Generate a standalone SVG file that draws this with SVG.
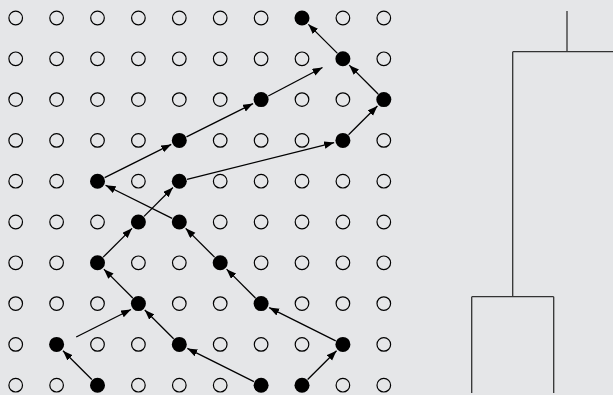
<svg xmlns="http://www.w3.org/2000/svg" width="613" height="395" viewBox="0 0 613 395">
<style>
.o{fill:none;stroke:#000;stroke-width:1.2}
.f{fill:#000;stroke:none}
.a{stroke:#000;stroke-width:1.3;fill:none;marker-end:url(#ah)}
.t{stroke:#333;stroke-width:1.3;fill:none}
</style>
<defs>
<marker id="ah" markerUnits="userSpaceOnUse" markerWidth="11" markerHeight="8" refX="10" refY="3.75" orient="auto">
<path d="M0,0 L10,3.75 L0,7.5 z" fill="#000"/>
</marker>
</defs>
<rect width="613" height="395" fill="#e5e6e8"/>
<g id="grid">
<g id="r0"><circle class="o" cx="15.7" cy="18" r="6.8"/><circle class="o" cx="56.6" cy="18" r="6.8"/><circle class="o" cx="97.5" cy="18" r="6.8"/><circle class="o" cx="138.4" cy="18" r="6.8"/><circle class="o" cx="179.3" cy="18" r="6.8"/><circle class="o" cx="220.2" cy="18" r="6.8"/><circle class="o" cx="261.1" cy="18" r="6.8"/><circle class="f" cx="302" cy="18" r="7.5"/><circle class="o" cx="342.9" cy="18" r="6.8"/><circle class="o" cx="383.8" cy="18" r="6.8"/></g>
<g id="r1"><circle class="o" cx="15.7" cy="58.8" r="6.8"/><circle class="o" cx="56.6" cy="58.8" r="6.8"/><circle class="o" cx="97.5" cy="58.8" r="6.8"/><circle class="o" cx="138.4" cy="58.8" r="6.8"/><circle class="o" cx="179.3" cy="58.8" r="6.8"/><circle class="o" cx="220.2" cy="58.8" r="6.8"/><circle class="o" cx="261.1" cy="58.8" r="6.8"/><circle class="o" cx="302" cy="58.8" r="6.8"/><circle class="f" cx="342.9" cy="58.8" r="7.5"/><circle class="o" cx="383.8" cy="58.8" r="6.8"/></g>
<g id="r2"><circle class="o" cx="15.7" cy="99.6" r="6.8"/><circle class="o" cx="56.6" cy="99.6" r="6.8"/><circle class="o" cx="97.5" cy="99.6" r="6.8"/><circle class="o" cx="138.4" cy="99.6" r="6.8"/><circle class="o" cx="179.3" cy="99.6" r="6.8"/><circle class="o" cx="220.2" cy="99.6" r="6.8"/><circle class="f" cx="261.1" cy="99.6" r="7.5"/><circle class="o" cx="302" cy="99.6" r="6.8"/><circle class="o" cx="342.9" cy="99.6" r="6.8"/><circle class="f" cx="383.8" cy="99.6" r="7.5"/></g>
<g id="r3"><circle class="o" cx="15.7" cy="140.4" r="6.8"/><circle class="o" cx="56.6" cy="140.4" r="6.8"/><circle class="o" cx="97.5" cy="140.4" r="6.8"/><circle class="o" cx="138.4" cy="140.4" r="6.8"/><circle class="f" cx="179.3" cy="140.4" r="7.5"/><circle class="o" cx="220.2" cy="140.4" r="6.8"/><circle class="o" cx="261.1" cy="140.4" r="6.8"/><circle class="o" cx="302" cy="140.4" r="6.8"/><circle class="f" cx="342.9" cy="140.4" r="7.5"/><circle class="o" cx="383.8" cy="140.4" r="6.8"/></g>
<g id="r4"><circle class="o" cx="15.7" cy="181.2" r="6.8"/><circle class="o" cx="56.6" cy="181.2" r="6.8"/><circle class="f" cx="97.5" cy="181.2" r="7.5"/><circle class="o" cx="138.4" cy="181.2" r="6.8"/><circle class="f" cx="179.3" cy="181.2" r="7.5"/><circle class="o" cx="220.2" cy="181.2" r="6.8"/><circle class="o" cx="261.1" cy="181.2" r="6.8"/><circle class="o" cx="302" cy="181.2" r="6.8"/><circle class="o" cx="342.9" cy="181.2" r="6.8"/><circle class="o" cx="383.8" cy="181.2" r="6.8"/></g>
<g id="r5"><circle class="o" cx="15.7" cy="222" r="6.8"/><circle class="o" cx="56.6" cy="222" r="6.8"/><circle class="o" cx="97.5" cy="222" r="6.8"/><circle class="f" cx="138.4" cy="222" r="7.5"/><circle class="f" cx="179.3" cy="222" r="7.5"/><circle class="o" cx="220.2" cy="222" r="6.8"/><circle class="o" cx="261.1" cy="222" r="6.8"/><circle class="o" cx="302" cy="222" r="6.8"/><circle class="o" cx="342.9" cy="222" r="6.8"/><circle class="o" cx="383.8" cy="222" r="6.8"/></g>
<g id="r6"><circle class="o" cx="15.7" cy="262.8" r="6.8"/><circle class="o" cx="56.6" cy="262.8" r="6.8"/><circle class="f" cx="97.5" cy="262.8" r="7.5"/><circle class="o" cx="138.4" cy="262.8" r="6.8"/><circle class="o" cx="179.3" cy="262.8" r="6.8"/><circle class="f" cx="220.2" cy="262.8" r="7.5"/><circle class="o" cx="261.1" cy="262.8" r="6.8"/><circle class="o" cx="302" cy="262.8" r="6.8"/><circle class="o" cx="342.9" cy="262.8" r="6.8"/><circle class="o" cx="383.8" cy="262.8" r="6.8"/></g>
<g id="r7"><circle class="o" cx="15.7" cy="303.6" r="6.8"/><circle class="o" cx="56.6" cy="303.6" r="6.8"/><circle class="o" cx="97.5" cy="303.6" r="6.8"/><circle class="f" cx="138.4" cy="303.6" r="7.5"/><circle class="o" cx="179.3" cy="303.6" r="6.8"/><circle class="o" cx="220.2" cy="303.6" r="6.8"/><circle class="f" cx="261.1" cy="303.6" r="7.5"/><circle class="o" cx="302" cy="303.6" r="6.8"/><circle class="o" cx="342.9" cy="303.6" r="6.8"/><circle class="o" cx="383.8" cy="303.6" r="6.8"/></g>
<g id="r8"><circle class="o" cx="15.7" cy="344.4" r="6.8"/><circle class="f" cx="56.6" cy="344.4" r="7.5"/><circle class="o" cx="97.5" cy="344.4" r="6.8"/><circle class="o" cx="138.4" cy="344.4" r="6.8"/><circle class="f" cx="179.3" cy="344.4" r="7.5"/><circle class="o" cx="220.2" cy="344.4" r="6.8"/><circle class="o" cx="261.1" cy="344.4" r="6.8"/><circle class="o" cx="302" cy="344.4" r="6.8"/><circle class="f" cx="342.9" cy="344.4" r="7.5"/><circle class="o" cx="383.8" cy="344.4" r="6.8"/></g>
<g id="r9"><circle class="o" cx="15.7" cy="385.2" r="6.8"/><circle class="o" cx="56.6" cy="385.2" r="6.8"/><circle class="f" cx="97.5" cy="385.2" r="7.5"/><circle class="o" cx="138.4" cy="385.2" r="6.8"/><circle class="o" cx="179.3" cy="385.2" r="6.8"/><circle class="o" cx="220.2" cy="385.2" r="6.8"/><circle class="f" cx="261.1" cy="385.2" r="7.5"/><circle class="f" cx="302" cy="385.2" r="7.5"/><circle class="o" cx="342.9" cy="385.2" r="6.8"/><circle class="o" cx="383.8" cy="385.2" r="6.8"/></g>
</g>
<g id="connectors">
<line class="a" x1="91.84" y1="379.55" x2="62.97" y2="350.75"/>
<line class="a" x1="76.2" y1="337" x2="131" y2="309.5"/>
<line class="a" x1="173.64" y1="338.75" x2="144.77" y2="309.95"/>
<line class="a" x1="132.74" y1="297.95" x2="103.87" y2="269.15"/>
<line class="a" x1="103.16" y1="257.15" x2="132.03" y2="228.35"/>
<line class="a" x1="144.06" y1="216.35" x2="172.93" y2="187.55"/>
<line class="a" x1="172.14" y1="218.43" x2="105.55" y2="185.22"/>
<line class="a" x1="214.54" y1="257.15" x2="185.67" y2="228.35"/>
<line class="a" x1="255.44" y1="297.95" x2="226.57" y2="269.15"/>
<line class="a" x1="335.74" y1="340.83" x2="269.15" y2="307.62"/>
<line class="a" x1="307.66" y1="379.55" x2="336.53" y2="350.75"/>
<line class="a" x1="253.94" y1="381.63" x2="187.35" y2="348.42"/>
<line class="a" x1="104.66" y1="177.63" x2="171.25" y2="144.42"/>
<line class="a" x1="186.46" y1="136.83" x2="253.05" y2="103.62"/>
<line class="a" x1="268.26" y1="96.03" x2="322.5" y2="67.5"/>
<line class="a" x1="187.06" y1="179.26" x2="334.17" y2="142.58"/>
<line class="a" x1="348.56" y1="134.75" x2="377.43" y2="105.95"/>
<line class="a" x1="378.14" y1="93.95" x2="349.27" y2="65.15"/>
<line class="a" x1="337.24" y1="53.15" x2="308.37" y2="24.35"/>
</g>
<g id="tree">
<path class="t" d="M567,11 V51.7 M512.7,51.7 H613 M512.7,51.7 V296.7 M471.7,296.7 H553.7 M471.7,296.7 V393 M553.7,296.7 V393"/>
</g>
</svg>
